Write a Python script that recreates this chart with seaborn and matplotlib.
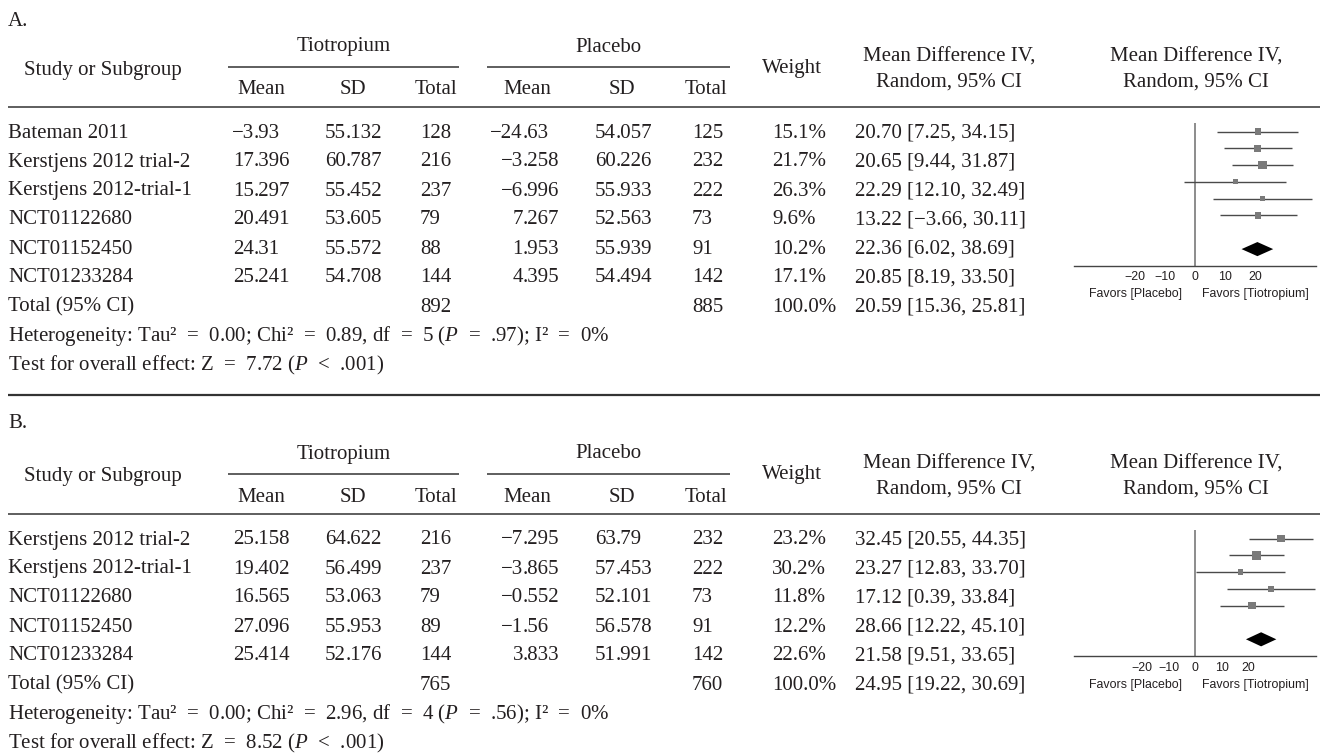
import matplotlib
matplotlib.use("Agg")
import matplotlib.pyplot as plt
import seaborn as sns
import numpy as np

# ---- panel A ----
studies_a = ["Bateman 2011", "Kerstjens 2012 trial-2", "Kerstjens 2012-trial-1",
             "NCT01122680", "NCT01152450", "NCT01233284"]
tio_mean_a = [-3.93, 17.396, 15.297, 20.491, 24.31, 25.241]
tio_sd_a = [55.132, 60.787, 55.452, 53.605, 55.572, 54.708]
tio_n_a = [128, 216, 237, 79, 88, 144]
pla_mean_a = [-24.63, -3.258, -6.996, 7.267, 1.953, 4.395]
pla_sd_a = [54.057, 60.226, 55.933, 52.563, 55.939, 54.494]
pla_n_a = [125, 232, 222, 73, 91, 142]
weight_a = [15.1, 21.7, 26.3, 9.6, 10.2, 17.1]
md_a = [20.70, 20.65, 22.29, 13.22, 22.36, 20.85]
lo_a = [7.25, 9.44, 12.10, -3.66, 6.02, 8.19]
hi_a = [34.15, 31.87, 32.49, 30.11, 38.69, 33.50]
total_a = (892, 885, 20.59, 15.36, 25.81)
het_a = ("0.00", "0.89", 5, ".97", "0%")
test_a = ("7.72", ".001")

# ---- panel B ----
studies_b = ["Kerstjens 2012 trial-2", "Kerstjens 2012-trial-1",
             "NCT01122680", "NCT01152450", "NCT01233284"]
tio_mean_b = [25.158, 19.402, 16.565, 27.096, 25.414]
tio_sd_b = [64.622, 56.499, 53.063, 55.953, 52.176]
tio_n_b = [216, 237, 79, 89, 144]
pla_mean_b = [-7.295, -3.865, -0.552, -1.56, 3.833]
pla_sd_b = [63.79, 57.453, 52.101, 56.578, 51.991]
pla_n_b = [232, 222, 73, 91, 142]
weight_b = [23.2, 30.2, 11.8, 12.2, 22.6]
md_b = [32.45, 23.27, 17.12, 28.66, 21.58]
lo_b = [20.55, 12.83, 0.39, 12.22, 9.51]
hi_b = [44.35, 33.70, 33.84, 45.10, 33.65]
total_b = (765, 760, 24.95, 19.22, 30.69)
het_b = ("0.00", "2.96", 4, ".56", "0%")
test_b = ("8.52", ".001")

forest_ticks = [-20, -10, 0, 10, 20]

W, H = 1324, 755
sns.set_theme(style="white")
plt.rcParams["font.family"] = ["Liberation Serif", "DejaVu Serif"]
plt.rcParams["mathtext.fontset"] = "custom"
plt.rcParams["mathtext.rm"] = "Liberation Serif"
plt.rcParams["mathtext.it"] = "Liberation Serif:italic"

FS = 15
SANS = 8.9
TXT = "#231f20"
ROW = 29
HEAD_X = [261, 353, 436, 527, 622, 706]   # header centres
DEC_X = [254, 346, None, 523, 616, None]  # decimal points of numeric columns
N_LEFT = [420, 692]                       # left edge of the Total columns
W_HEAD, W_LEFT = 792, 772
MD_HEAD, MD_LEFT = 949, 855
FOREST_HEAD = 1196
ZERO_X = 1195
STEP = 16.8

fig = plt.figure(figsize=(W / 100, H / 100), dpi=100)
main = fig.add_axes([0, 0, 1, 1])
main.set_xlim(0, W)
main.set_ylim(H, 0)
main.axis("off")


def fmt(v):
    return str(v).replace("-", "\u2212")


def ci(m, lo, hi):
    return f"{m:.2f} [{lo:.2f}, {hi:.2f}]".replace("-", "\u2212")


def t(x, y, s, ha="left", **kw):
    main.text(x, y, s, ha=ha, va="center", fontsize=FS, color=TXT, **kw)


def tdec(x, y, v):
    # number set on its decimal point
    whole, frac = fmt(v).split(".")
    t(x, y, whole, ha="right")
    t(x, y, "." + frac)


def hline(y, x0, x1, lw=1.1):
    main.plot([x0, x1], [y, y], color="#333333", lw=lw, solid_capstyle="butt")


def panel(y0, label, label_y, studies, tm, tsd, tn, pm, psd, pn, wt, md, lo, hi,
          total, het, test, xlim, px_per):
    n = len(studies)
    # header
    t(8, label_y, label)
    t((228 + 459) / 2, y0 + 47, "Tiotropium", ha="center")
    t((487 + 730) / 2, y0 + 47, "Placebo", ha="center")
    hline(y0 + 66.7, 228, 459)
    hline(y0 + 66.7, 487, 730)
    t(103, y0 + 70, "Study or Subgroup", ha="center")
    for cx, name in zip(HEAD_X, ["Mean", "SD", "Total"] * 2):
        t(cx, y0 + 90, name, ha="center")
    t(W_HEAD, y0 + 68, "Weight", ha="center")
    for cx in (MD_HEAD, FOREST_HEAD):
        t(cx, y0 + 57, "Mean Difference IV,", ha="center")
        t(cx, y0 + 82, "Random, 95% CI", ha="center")
    hline(y0 + 106.7, 8, 1320)

    # rows
    first = y0 + 133
    for i in range(n):
        y = first + i * ROW
        t(8, y, studies[i])
        tdec(DEC_X[0], y, tm[i])
        tdec(DEC_X[1], y, tsd[i])
        t(N_LEFT[0], y, fmt(tn[i]))
        tdec(DEC_X[3], y, pm[i])
        tdec(DEC_X[4], y, psd[i])
        t(N_LEFT[1], y, fmt(pn[i]))
        t(W_LEFT, y, f"{wt[i]:.1f}%")
        t(MD_LEFT, y, ci(md[i], lo[i], hi[i]))
    yt = first + n * ROW
    t(8, yt, "Total (95% CI)")
    t(N_LEFT[0], yt, fmt(total[0]))
    t(N_LEFT[1], yt, fmt(total[1]))
    t(W_LEFT, yt, f"{sum(wt):.1f}%")
    t(MD_LEFT, yt, ci(total[2], total[3], total[4]))
    t(8, yt + ROW, f"Heterogeneity: Tau\u00b2  =  {het[0]}; Chi\u00b2  =  {het[1]}, df  =  {het[2]} "
                   f"($P$  =  {het[3]}); I\u00b2  =  {het[4]}")
    t(8, yt + 2 * ROW, f"Test for overall effect: Z  =  {test[0]} ($P$  <  {test[1]})")

    # forest plot
    fy0 = first - 1.5
    nrow = n + 2
    left = ZERO_X + xlim[0] * px_per
    right = ZERO_X + xlim[1] * px_per
    top = fy0 - 0.5 * STEP
    bottom = fy0 + nrow * STEP
    ax = fig.add_axes([left / W, 1 - bottom / H, (right - left) / W, (bottom - top) / H])
    ax.patch.set_alpha(0)
    rows = np.arange(n)
    ax.axvline(0, color="#6e6e6e", lw=1.1, zorder=1)
    ax.hlines(rows, lo, hi, color="#4a4a4a", lw=1.0, zorder=2)
    sns.scatterplot(x=md, y=rows, size=wt, sizes=(min(wt) * 1.3, max(wt) * 1.3),
                    marker="s", color="#7a7a7a", edgecolor="none", legend=False,
                    ax=ax, zorder=3)
    d = n + 1
    ax.fill([total[3], total[2], total[4], total[2]], [d, d - 0.42, d, d + 0.42],
            color="black", lw=0, zorder=3)
    ax.set_xlim(*xlim)
    ax.set_ylim(nrow, -0.5)
    ax.set_xlabel("")
    ax.set_ylabel("")
    ax.set_yticks([])
    ax.set_xticks(forest_ticks)
    for side in ("top", "left", "right"):
        ax.spines[side].set_visible(False)
    ax.spines["bottom"].set_color("#444444")
    ax.spines["bottom"].set_linewidth(1.0)
    ax.tick_params(axis="x", direction="inout", length=6, width=1.0, colors="#444444",
                   labelsize=SANS, pad=1, labelcolor=TXT, labelfontfamily="Liberation Sans")
    main.text(1182, bottom + 28.5, "Favors [Placebo]", ha="right", va="center",
              fontsize=SANS, color=TXT, family="Liberation Sans")
    main.text(1202, bottom + 28.5, "Favors [Tiotropium]", ha="left", va="center",
              fontsize=SANS, color=TXT, family="Liberation Sans")


panel(0, "A.", 22, studies_a, tio_mean_a, tio_sd_a, tio_n_a, pla_mean_a, pla_sd_a,
      pla_n_a, weight_a, md_a, lo_a, hi_a, total_a, het_a, test_a, (-40, 40), 3.03)
hline(395, 8, 1320, lw=1.6)
panel(407, "B.", 423, studies_b, tio_mean_b, tio_sd_b, tio_n_b, pla_mean_b, pla_sd_b,
      pla_n_b, weight_b, md_b, lo_b, hi_b, total_b, het_b, test_b, (-45.5, 45.5), 2.65)

fig.savefig("out.png", dpi=100)
